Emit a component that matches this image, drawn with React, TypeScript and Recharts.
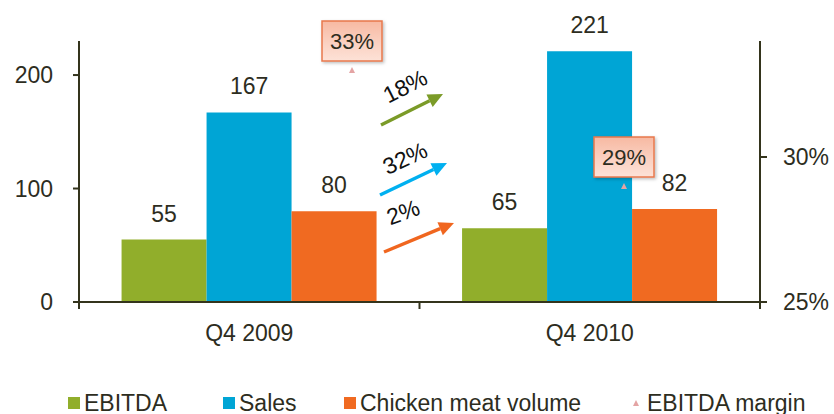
import React from 'react';
import {
  ComposedChart,
  Bar,
  Line,
  XAxis,
  YAxis,
  LabelList,
  Legend,
  Customized,
} from 'recharts';

const categories = ['Q4 2009', 'Q4 2010'];
const ebitda = [55, 65];
const sales = [167, 221];
const chickenVolume = [80, 82];
const ebitdaMargin = [33, 29];
const leftTicks = [0, 100, 200];
const rightTicks = [25, 30];
const growthLabels = ['18%', '32%', '2%'];

const data = categories.map((c, i) => ({
  name: c,
  ebitda: ebitda[i],
  sales: sales[i],
  chicken: chickenVolume[i],
  margin: ebitdaMargin[i],
}));

const FONT = '"Liberation Sans", Arial, sans-serif';
const TEXT = '#2d2d1e';
const AXIS = '#34341c';
const GREEN = '#91ae2b';
const BLUE = '#00a5d5';
const ORANGE = '#f06a21';
const ARROW_GREEN = '#7b9b28';
const ARROW_BLUE = '#00b0f0';
const ARROW_ORANGE = '#f0661f';
const MARKER = '#e4a4a4';
const TICK_SIZE = 7;
const TICK_MARGIN = 16;

const MarginDot = (props: any) => {
  const { cx, cy, payload, index } = props;
  if (cx == null || cy == null) return null;
  const w = 60;
  const h = 40;
  return (
    <g key={`md-${index}`}>
      <path d={`M${cx - 3},${cy + 3} L${cx + 3},${cy + 3} L${cx},${cy - 3} Z`} fill={MARKER} />
      <rect
        x={cx - w / 2}
        y={cy - 9 - h}
        width={w}
        height={h}
        fill="url(#boxGrad)"
        stroke="#e8784c"
        strokeWidth={1.5}
        filter="url(#boxShadow)"
      />
      <text
        x={cx}
        y={cy - 9 - h / 2}
        dy="0.36em"
        textAnchor="middle"
        fontSize={22}
        fontFamily={FONT}
        fill={TEXT}
      >
        {`${payload.margin}%`}
      </text>
    </g>
  );
};

const CategoryTick = (props: any) => {
  const { x, y, payload, index, visibleTicksCount } = props;
  const half = payload && payload.offset ? payload.offset : 170.25;
  const axisY = y - TICK_MARGIN - TICK_SIZE;
  const isLast = index === (visibleTicksCount ?? categories.length) - 1;
  return (
    <g>
      <line x1={x - half} y1={axisY} x2={x - half} y2={axisY + TICK_SIZE} stroke={AXIS} strokeWidth={2} />
      {isLast && (
        <line x1={x + half} y1={axisY} x2={x + half} y2={axisY + TICK_SIZE} stroke={AXIS} strokeWidth={2} />
      )}
      <text x={x} y={y} dy="0.71em" textAnchor="middle" fontSize={23} fontFamily={FONT} fill={TEXT}>
        {payload.value}
      </text>
    </g>
  );
};

const Arrow = ({ x1, y1, x2, y2, color }: any) => {
  const ang = Math.atan2(y2 - y1, x2 - x1);
  const len = 15;
  const half = 7;
  const bx = x2 - len * Math.cos(ang);
  const by = y2 - len * Math.sin(ang);
  const px = -Math.sin(ang) * half;
  const py = Math.cos(ang) * half;
  return (
    <g>
      <line x1={x1} y1={y1} x2={bx} y2={by} stroke={color} strokeWidth={3.5} />
      <path d={`M${x2},${y2} L${bx + px},${by + py} L${bx - px},${by - py} Z`} fill={color} />
    </g>
  );
};

const Annotations = () => (
  <g>
    <defs>
      <linearGradient id="boxGrad" x1="0" y1="0" x2="0" y2="1">
        <stop offset="0%" stopColor="#f7b9a2" />
        <stop offset="60%" stopColor="#fbd3c4" />
        <stop offset="100%" stopColor="#fde2d7" />
      </linearGradient>
      <filter id="boxShadow" x="-20%" y="-20%" width="150%" height="150%">
        <feDropShadow dx="1.5" dy="1.5" stdDeviation="1.5" floodColor="#000" floodOpacity="0.25" />
      </filter>
    </defs>
    <Arrow x1={381} y1={125} x2={443} y2={94} color={ARROW_GREEN} />
    <Arrow x1={380} y1={195} x2={447} y2={163} color={ARROW_BLUE} />
    <Arrow x1={384} y1={252} x2={454} y2={223} color={ARROW_ORANGE} />
    <text x={405} y={86} dy="0.36em" textAnchor="middle" fontSize={23} fontFamily={FONT} fill="#111" transform="rotate(-27 405 86)">
      {growthLabels[0]}
    </text>
    <text x={405} y={158} dy="0.36em" textAnchor="middle" fontSize={23} fontFamily={FONT} fill="#111" transform="rotate(-25 405 158)">
      {growthLabels[1]}
    </text>
    <text x={403} y={212} dy="0.36em" textAnchor="middle" fontSize={23} fontFamily={FONT} fill="#111" transform="rotate(-20 403 212)">
      {growthLabels[2]}
    </text>
  </g>
);

const legendItems = [
  { label: 'EBITDA', color: GREEN, type: 'square', left: 68 },
  { label: 'Sales', color: BLUE, type: 'square', left: 223 },
  { label: 'Chicken meat volume', color: ORANGE, type: 'square', left: 344 },
  { label: 'EBITDA margin', color: MARKER, type: 'triangle', left: 631 },
];

const LegendContent = () => (
  <div style={{ position: 'relative', width: 834, height: 30, fontFamily: FONT, fontSize: 23, color: TEXT }}>
    {legendItems.map((it) => (
      <div
        key={it.label}
        style={{ position: 'absolute', left: it.left, top: 4, height: 30, display: 'flex', alignItems: 'center', whiteSpace: 'nowrap' }}
      >
        {it.type === 'square' ? (
          <span style={{ display: 'inline-block', width: 12, height: 12, background: it.color, marginRight: 4 }} />
        ) : (
          <svg width={10} height={12} style={{ marginRight: 6 }}>
            <path d="M2,9 L8,9 L5,3 Z" fill={it.color} />
          </svg>
        )}
        <span>{it.label}</span>
      </div>
    ))}
  </div>
);

export default function App() {
  return (
    <div style={{ position: 'absolute', left: 0, top: 0, width: 834, height: 414, background: '#fff' }}>
      <ComposedChart
        width={834}
        height={414}
        data={data}
        margin={{ top: 41, right: 14, bottom: 32, left: 19 }}
        barCategoryGap="12.5%"
        barGap={0}
      >
        <XAxis
          dataKey="name"
          xAxisId="main"
          tickLine={false}
          axisLine={{ stroke: AXIS, strokeWidth: 2 }}
          tick={CategoryTick}
          tickSize={TICK_SIZE}
          tickMargin={TICK_MARGIN}
          height={50}
          interval={0}
        />
        <XAxis dataKey="name" xAxisId="m" hide height={0} scale="band" padding={{ left: 137, right: 0 }} />
        <YAxis
          yAxisId="left"
          domain={[0, 230]}
          ticks={leftTicks}
          width={60}
          tickLine={{ stroke: AXIS, strokeWidth: 2 }}
          axisLine={{ stroke: AXIS, strokeWidth: 2 }}
          tick={{ fill: TEXT, fontSize: 23, fontFamily: FONT }}
          tickSize={6}
          tickMargin={20}
        />
        <YAxis
          yAxisId="right"
          orientation="right"
          domain={[25, 34]}
          ticks={rightTicks}
          width={60}
          tickFormatter={(v: number) => `${v}%`}
          tickLine={{ stroke: AXIS, strokeWidth: 2 }}
          axisLine={{ stroke: AXIS, strokeWidth: 2 }}
          tick={{ fill: TEXT, fontSize: 23, fontFamily: FONT }}
          tickSize={7}
          tickMargin={16}
        />
        <Bar dataKey="ebitda" name="EBITDA" xAxisId="main" yAxisId="left" fill={GREEN} isAnimationActive={false}>
          <LabelList dataKey="ebitda" position="top" offset={18} fill={TEXT} fontSize={23} fontFamily={FONT} />
        </Bar>
        <Bar dataKey="sales" name="Sales" xAxisId="main" yAxisId="left" fill={BLUE} isAnimationActive={false}>
          <LabelList dataKey="sales" position="top" offset={18} fill={TEXT} fontSize={23} fontFamily={FONT} />
        </Bar>
        <Bar dataKey="chicken" name="Chicken meat volume" xAxisId="main" yAxisId="left" fill={ORANGE} isAnimationActive={false}>
          <LabelList dataKey="chicken" position="top" offset={18} fill={TEXT} fontSize={23} fontFamily={FONT} />
        </Bar>
        <Customized component={Annotations} />
        <Line
          dataKey="margin"
          name="EBITDA margin"
          xAxisId="m"
          yAxisId="right"
          stroke="none"
          dot={MarginDot}
          activeDot={false}
          isAnimationActive={false}
        />
        <Legend verticalAlign="bottom" wrapperStyle={{ bottom: 0, left: 0 }} content={LegendContent} />
      </ComposedChart>
    </div>
  );
}
